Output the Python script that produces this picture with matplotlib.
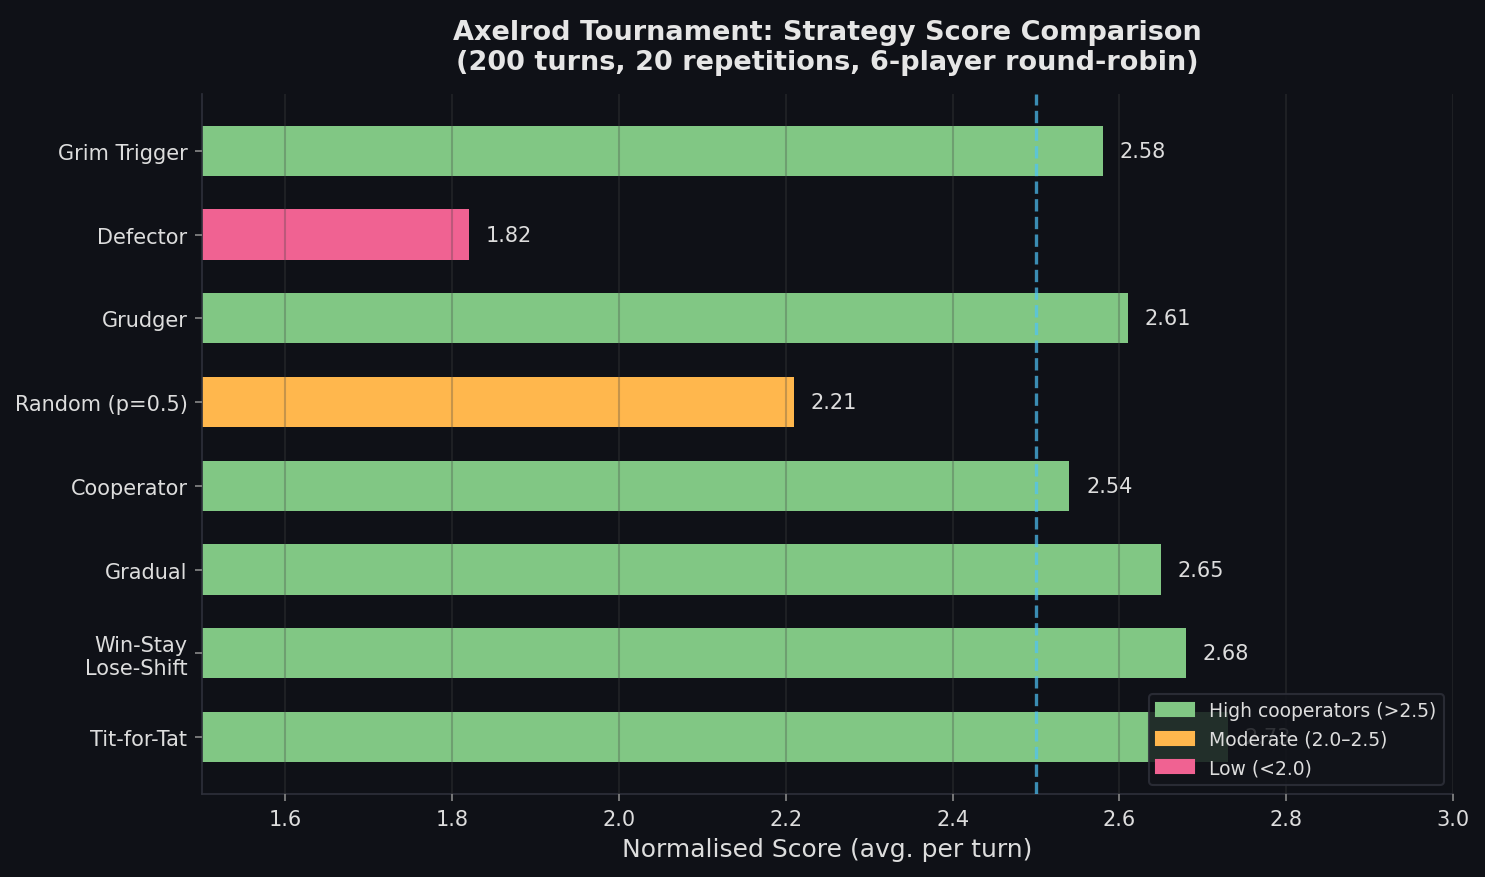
import numpy as np
import matplotlib.pyplot as plt
from matplotlib.patches import Patch

# dados (de baixo para cima)
estrategias = ['Tit-for-Tat', 'Win-Stay\nLose-Shift', 'Gradual', 'Cooperator',
               'Random (p=0.5)', 'Grudger', 'Defector', 'Grim Trigger']
pontuacoes = [2.73, 2.68, 2.65, 2.54, 2.21, 2.61, 1.82, 2.58]
limiar = 2.5

FUNDO = '#0f1117'
VERDE = '#81c784'
LARANJA = '#ffb74d'
ROSA = '#f06292'
TEXTO = '#dddddd'


def cor_barra(v):
    if v > 2.5:
        return VERDE
    elif v >= 2.0:
        return LARANJA
    return ROSA


fig, ax = plt.subplots(figsize=(9.9, 5.853), dpi=150)
fig.patch.set_facecolor(FUNDO)
ax.set_facecolor(FUNDO)

y = np.arange(len(estrategias))
cores = [cor_barra(v) for v in pontuacoes]
ax.barh(y, pontuacoes, height=0.6, color=cores, zorder=1)

for yi, v in zip(y, pontuacoes):
    ax.text(v + 0.02, yi, f'{v:.2f}', va='center', ha='left', color=TEXTO,
            fontsize=10, zorder=2)

ax.axvline(limiar, color='#4fc3f7', linestyle='--', linewidth=1.6, alpha=0.7, zorder=3)

ax.set_xlim(1.5, 3.0)
ax.set_yticks(y)
ax.set_yticklabels(estrategias)
ax.grid(True, axis='x', color='#444444', alpha=0.3, linewidth=1.0, zorder=2)
ax.set_axisbelow(False)

ax.tick_params(colors='#888888', labelcolor=TEXTO, labelsize=10)
for lado in ['top', 'right']:
    ax.spines[lado].set_visible(False)
for lado in ['left', 'bottom']:
    ax.spines[lado].set_color('#2e303a')

ax.set_xlabel('Normalised Score (avg. per turn)', color=TEXTO, fontsize=12)
ax.set_title('Axelrod Tournament: Strategy Score Comparison\n'
             '(200 turns, 20 repetitions, 6-player round-robin)',
             color='#e6e6e6', fontsize=13, fontweight='bold', pad=12)

handles = [Patch(color=VERDE, label='High cooperators (>2.5)'),
           Patch(color=LARANJA, label='Moderate (2.0–2.5)'),
           Patch(color=ROSA, label='Low (<2.0)')]
leg = ax.legend(handles=handles, loc='lower right', fontsize=9, facecolor='#12141a',
                edgecolor='#2e303a', framealpha=0.85, labelcolor=TEXTO)
leg.set_zorder(5)

fig.subplots_adjust(left=0.136, right=0.9785, top=0.892, bottom=0.0945)
plt.savefig('out.png', dpi=150, facecolor=FUNDO)
